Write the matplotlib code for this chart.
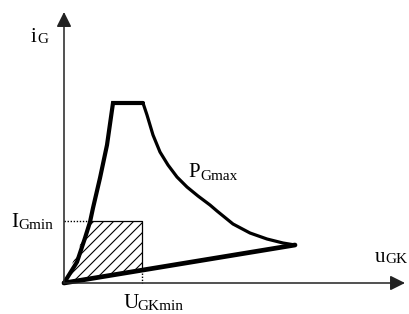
import matplotlib
matplotlib.use("Agg")
import matplotlib.pyplot as plt
import numpy as np
from matplotlib.path import Path
from matplotlib.patches import PathPatch

plt.rcParams['font.family'] = ['Liberation Serif', 'DejaVu Serif']

# safe operating area, units = pixels from origin
u_left = [0, 13, 21, 26, 29, 36, 43, 49]
i_left = [0, 21, 45, 61, 75, 105, 138, 180]
u_top = [49, 79]
i_top = [180, 180]
u_right = [79, 83, 89, 96, 104, 113, 123, 134, 146, 153, 169, 186, 203, 219, 231]
i_right = [180, 168, 148, 131, 118, 106, 96, 87, 78, 72, 59, 50, 44, 40, 38]
u_bottom = [231, 0]
i_bottom = [38, 0]
U_GKmin = 78
I_Gmin = 62

W, H = 409, 314
ox, oy = 64, 283  # origin in pixels

fig = plt.figure(figsize=(W / 100, H / 100), dpi=100)
ax = fig.add_axes([0, 0, 1, 1])
ax.set_xlim(-ox, W - ox)
ax.set_ylim(-(H - oy), oy)
ax.axis('off')

# axes arrows
arr = dict(arrowstyle='-|>,head_length=0.9,head_width=0.45', color='#222', lw=1.1,
           shrinkA=0, shrinkB=0, mutation_scale=10)
ax.annotate('', xy=(0, oy - 12), xytext=(0, 0), arrowprops=arr)
ax.annotate('', xy=(W - ox - 4, 0), xytext=(0, 0), arrowprops=arr)

# hatched region: left curve up to I_Gmin, rectangle, bottom line
slope = i_bottom[0] / u_bottom[0]
u_cross = np.interp(I_Gmin, i_left, u_left)
hu = [0, u_cross, U_GKmin, U_GKmin, 0]
hi = [0, I_Gmin, I_Gmin, slope * U_GKmin, 0]
verts = list(zip(hu, hi))
codes = [Path.MOVETO] + [Path.LINETO] * (len(verts) - 2) + [Path.CLOSEPOLY]
region = PathPatch(Path(verts, codes), facecolor='none', edgecolor='none')
ax.add_patch(region)
for c in np.arange(-I_Gmin, U_GKmin + 10, 10):
    ln, = ax.plot([c, c + I_Gmin + 10], [-10, I_Gmin], color='black', lw=0.8)
    ln.set_clip_path(region)

# rectangle edges
ax.plot([u_cross, U_GKmin, U_GKmin], [I_Gmin, I_Gmin, slope * U_GKmin], color='black', lw=0.9)
ax.plot([0, u_cross], [I_Gmin, I_Gmin], color='black', lw=1.0, ls=(0, (1, 1.2)))
ax.plot([U_GKmin, U_GKmin], [slope * U_GKmin, 0], color='black', lw=1.0, ls=(0, (1, 1.2)))

# boundary curves
ax.plot(u_left + u_top[1:], i_left + i_top[1:], color='black', lw=3.0,
        solid_joinstyle='miter', solid_capstyle='round')
ax.plot(u_right, i_right, color='black', lw=2.3, solid_capstyle='round',
        solid_joinstyle='round')
ax.plot(u_bottom, i_bottom, color='black', lw=3.4, solid_capstyle='round')

# labels (pixel positions, baseline)
def lab(x, y, main, sub, xs, ys):
    ax.text(x - ox, oy - y, main, fontsize=15, ha='left', va='baseline')
    ax.text(xs - ox, oy - ys, sub, fontsize=11, ha='left', va='baseline')

lab(31, 42, 'i', 'G', 37, 43)
lab(11, 227, 'I', 'Gmin', 18, 229)
lab(124, 308, 'U', 'GKmin', 137, 310)
lab(375, 262, 'u', 'GK', 385, 263)
lab(188, 177, 'P', 'Gmax', 200, 180)

fig.savefig('out.png', dpi=100)
